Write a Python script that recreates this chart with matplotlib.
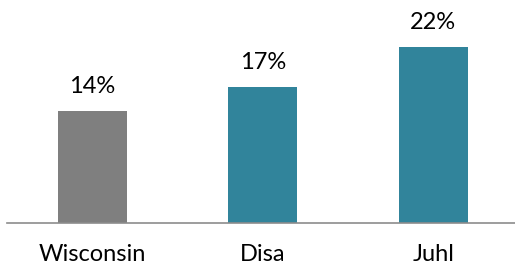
import matplotlib
matplotlib.use("Agg")
import matplotlib.pyplot as plt

categories = ["Wisconsin", "Disa", "Juhl"]
values = [14, 17, 22]
bar_colors = ["#7F7F7F", "#31849B", "#31849B"]

plt.rcParams['font.family'] = ['Lato', 'DejaVu Sans']

fig = plt.figure(figsize=(5.15, 2.72), dpi=100)
# baseline sits at y=223 px, 1% = 8 px
ax = fig.add_axes([7 / 515, (272 - 223) / 272, 508 / 515, 216 / 272])

x = range(len(categories))
bars = ax.bar(x, values, width=0.405, color=bar_colors)

for rect, v in zip(bars, values):
    ax.annotate(f"{v}%", (rect.get_x() + rect.get_width() / 2, v),
                xytext=(0, 13), textcoords="offset points",
                ha="center", va="baseline", fontsize=17, color="#000000")

ax.set_xlim(-0.5, 2.48)
ax.set_ylim(0, 27)
ax.set_xticks(list(x))
ax.set_xticklabels(categories, fontsize=17)
ax.tick_params(axis="x", length=0, pad=15)
ax.set_yticks([])
for side in ["top", "right", "left"]:
    ax.spines[side].set_visible(False)
ax.spines["bottom"].set_color("#8C8C8C")
ax.spines["bottom"].set_linewidth(1.2)

fig.savefig("out.png", dpi=100)
